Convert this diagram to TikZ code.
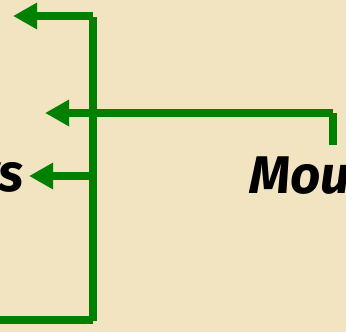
\documentclass[tikz,border=0pt]{standalone}
\usepackage{fontspec}
\setmainfont{Fira Sans}
\usetikzlibrary{arrows.meta}
\definecolor{parchment}{RGB}{242,227,193}
\definecolor{linkgreen}{RGB}{0,128,0}
\tikzset{
  link/.style={draw=linkgreen, line width=8pt, line cap=butt},
  linkarrow/.style={link, -{Triangle[length=24pt,width=25pt]}},
  label/.style={inner sep=0pt, font=\fontsize{53}{60}\selectfont\bfseries\itshape}
}
\begin{document}
\begin{tikzpicture}[x=1pt,y=-1pt]
  % page and paper
  \useasboundingbox (0,0) rectangle (346,332);
  \fill[parchment] (0,0) rectangle (346,332);
  \clip (0,0) rectangle (346,332);

  % labels
  \node[label, anchor=base east] (left) at (24,191) {rs};
  \node[label, anchor=base west] (right) at (249,193) {Mouc};

  % bracket points
  \coordinate (spineTop) at (93,17);
  \coordinate (spineBot) at (93,321);
  \coordinate (topJoin) at (93,16);
  \coordinate (topTip) at (13,16);
  \coordinate (midJoin) at (93,176);
  \coordinate (midTip) at (29,176);
  \coordinate (botJoin) at (93,320);
  \coordinate (botEnd) at (0,320);
  \coordinate (riseBot) at (333,145);
  \coordinate (riseTop) at (333,113);
  \coordinate (crossTip) at (45,113);

  % connectors
  \draw[link] (spineTop) -- (spineBot);
  \draw[linkarrow] (topJoin) -- (topTip);
  \draw[linkarrow] (midJoin) -- (midTip);
  \draw[link] (botJoin) -- (botEnd);
  \draw[link] (riseBot) -- (riseTop);
  \draw[linkarrow] (riseTop) -- (crossTip);
\end{tikzpicture}
\end{document}
